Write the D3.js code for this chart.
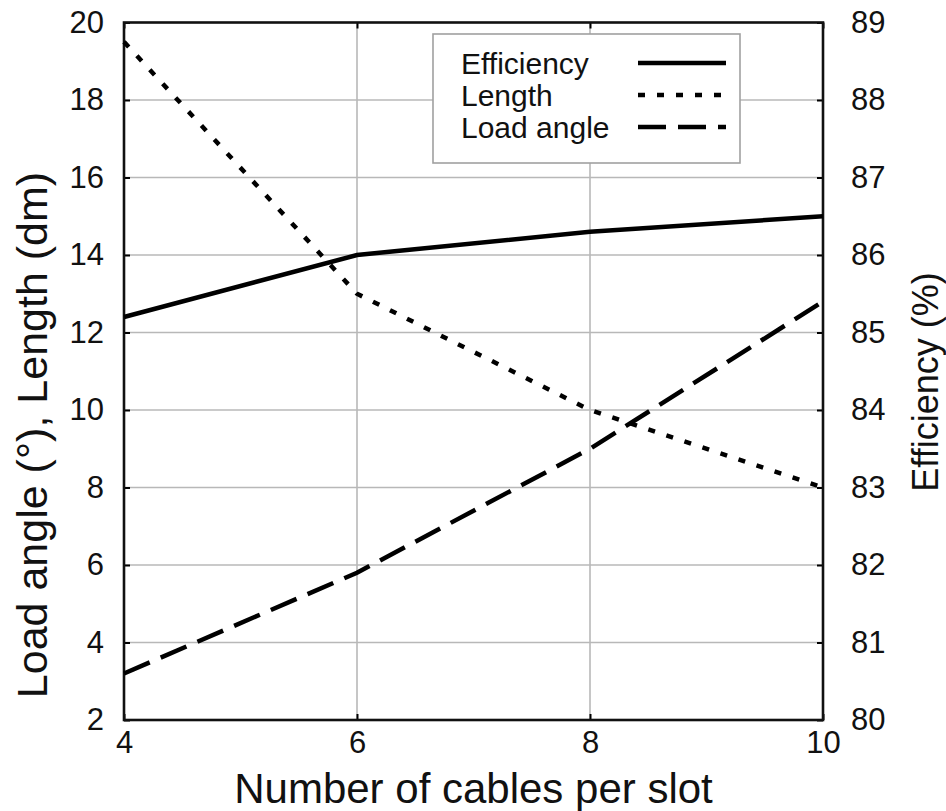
<!DOCTYPE html>
<html>
<head>
<meta charset="utf-8">
<script src="https://cdn.jsdelivr.net/npm/d3@7"></script>
<style>
  html, body { margin: 0; padding: 0; background: #fff; }
  svg { display: block; font-family: "Liberation Sans", Arial, Helvetica, sans-serif; }
</style>
</head>
<body>
<svg id="chart" width="946" height="811"></svg>
<script>
// Cables per slot (x axis)
const cables = [4, 6, 8, 10];
// Efficiency in % (right axis)
const efficiency = [85.2, 86.0, 86.3, 86.5];
// Machine length in dm (left axis)
const lengthDm = [19.5, 13.0, 10.0, 8.0];
// Load angle in degrees (left axis)
const loadAngle = [3.2, 5.8, 9.0, 12.8];

const xTicks = [4, 6, 8, 10];
const leftTicks = [2, 4, 6, 8, 10, 12, 14, 16, 18, 20];
const rightTicks = [80, 81, 82, 83, 84, 85, 86, 87, 88, 89];

const seriesNames = ["Efficiency", "Length", "Load angle"];

const svg = d3.select("#chart");
const m = { left: 124, right: 823, top: 22.5, bottom: 720 };

const x = d3.scaleLinear().domain([4, 10]).range([m.left, m.right]);
const yL = d3.scaleLinear().domain([2, 20]).range([m.bottom, m.top]);
const yR = d3.scaleLinear().domain([80, 89]).range([m.bottom, m.top]);

const gridColor = "#b8b8b8";

// grid
const grid = svg.append("g");
grid.selectAll("line.h").data(leftTicks.slice(1, -1)).join("line")
  .attr("x1", m.left).attr("x2", m.right)
  .attr("y1", d => yL(d)).attr("y2", d => yL(d))
  .attr("stroke", gridColor).attr("stroke-width", 1.6);
grid.selectAll("line.v").data(xTicks.slice(1, -1)).join("line")
  .attr("y1", m.top).attr("y2", m.bottom)
  .attr("x1", d => x(d)).attr("x2", d => x(d))
  .attr("stroke", gridColor).attr("stroke-width", 1.6);

// axes with inward ticks
const tickFont = 31;
function styleAxis(g) {
  g.select(".domain").remove();
  g.selectAll(".tick line").attr("stroke", "#000").attr("stroke-width", 2);
  g.selectAll(".tick text").attr("fill", "#111").style("font-size", tickFont + "px")
    .style("font-family", "'Liberation Sans', Arial, sans-serif");
}

svg.append("g").attr("transform", `translate(0,${m.bottom})`)
  .call(d3.axisBottom(x).tickValues(xTicks).tickFormat(d3.format("d")).tickSizeInner(-6).tickSizeOuter(0).tickPadding(11))
  .call(styleAxis);
svg.append("g").attr("transform", `translate(0,${m.top})`)
  .call(d3.axisTop(x).tickValues(xTicks).tickFormat("").tickSizeInner(-6).tickSizeOuter(0))
  .call(styleAxis);
svg.append("g").attr("transform", `translate(${m.left},0)`)
  .call(d3.axisLeft(yL).tickValues(leftTicks).tickFormat(d3.format("d")).tickSizeInner(-6).tickSizeOuter(0).tickPadding(20))
  .call(styleAxis);
svg.append("g").attr("transform", `translate(${m.right},0)`)
  .call(d3.axisRight(yR).tickValues(rightTicks).tickFormat(d3.format("d")).tickSizeInner(-6).tickSizeOuter(0).tickPadding(28))
  .call(styleAxis);

// frame
svg.append("rect")
  .attr("x", m.left).attr("y", m.top)
  .attr("width", m.right - m.left).attr("height", m.bottom - m.top)
  .attr("fill", "none").attr("stroke", "#111").attr("stroke-width", 2.6);

// series
const dashes = ["none", "7,12", "28,12"];
const lineL = d3.line().x((d, i) => x(cables[i])).y(d => yL(d));
const lineR = d3.line().x((d, i) => x(cables[i])).y(d => yR(d));

const plot = svg.append("g");
plot.append("path").datum(loadAngle).attr("d", lineL)
  .attr("fill", "none").attr("stroke", "#000").attr("stroke-width", 4.5)
  .attr("stroke-dasharray", dashes[2]);
plot.append("path").datum(lengthDm).attr("d", lineL)
  .attr("fill", "none").attr("stroke", "#000").attr("stroke-width", 4.5)
  .attr("stroke-dasharray", dashes[1]);
plot.append("path").datum(efficiency).attr("d", lineR)
  .attr("fill", "none").attr("stroke", "#000").attr("stroke-width", 4.5);

// legend
const lg = svg.append("g");
lg.append("rect").attr("x", 433).attr("y", 34).attr("width", 307).attr("height", 129)
  .attr("fill", "#fff").attr("stroke", "#a0a0a0").attr("stroke-width", 1.6);
seriesNames.forEach((name, i) => {
  const yy = 63 + i * 32;
  lg.append("text").attr("x", 461).attr("y", yy + 11)
    .style("font-size", "30px").attr("fill", "#111").text(name);
  lg.append("line").attr("x1", 638).attr("x2", 726).attr("y1", yy).attr("y2", yy)
    .attr("stroke", "#000").attr("stroke-width", 4.5)
    .attr("stroke-dasharray", dashes[i]);
});

// axis titles
svg.append("text").attr("x", (m.left + m.right) / 2).attr("y", 803)
  .attr("text-anchor", "middle").style("font-size", "42px").attr("fill", "#111")
  .text("Number of cables per slot");
svg.append("text").attr("transform", "translate(47,435) rotate(-90)")
  .attr("text-anchor", "middle").style("font-size", "43px").attr("fill", "#111")
  .text("Load angle (°), Length (dm)");
svg.append("text").attr("transform", "translate(938,382) rotate(-90)")
  .attr("text-anchor", "middle").style("font-size", "36px").attr("fill", "#111")
  .text("Efficiency (%)");
</script>
</body>
</html>
